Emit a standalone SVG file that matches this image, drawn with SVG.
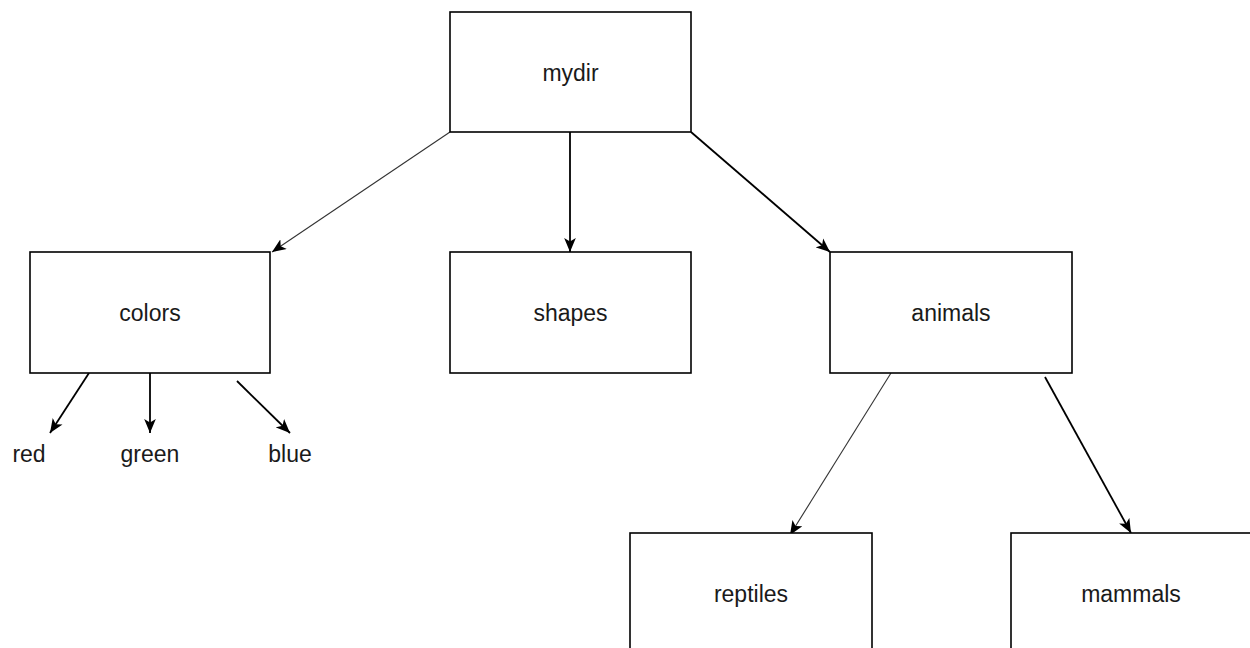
<svg xmlns="http://www.w3.org/2000/svg" width="1250" height="648" viewBox="0 0 1250 648">
<style>
.box{fill:#fff;stroke:#000;stroke-width:1.6}
.lbl{font-family:"Liberation Sans",Arial,sans-serif;font-size:23px;fill:#1a1a1a;text-anchor:middle}
.c{stroke:#000;stroke-width:1.8;fill:none}
.t{stroke:#333;stroke-width:1.1;fill:none}
</style>
<defs>
<marker id="ah" viewBox="0 0 12 10" refX="12" refY="5" markerWidth="14" markerHeight="12" markerUnits="userSpaceOnUse" orient="auto">
<path d="M0,0 L12,5 L0,10 L3,5 z" fill="#000"/>
</marker>
</defs>
<rect width="1250" height="648" fill="#fff"/>
<g id="connectors">
<line class="t" x1="450" y1="132" x2="272" y2="252" marker-end="url(#ah)"/>
<line class="c" x1="570" y1="132" x2="570" y2="252" marker-end="url(#ah)"/>
<line class="c" x1="691" y1="132" x2="830" y2="252" marker-end="url(#ah)"/>
<line class="c" x1="89" y1="373" x2="50" y2="433" marker-end="url(#ah)"/>
<line class="c" x1="150" y1="373" x2="150" y2="433" marker-end="url(#ah)"/>
<line class="c" x1="237" y1="381" x2="290" y2="433" marker-end="url(#ah)"/>
<line class="t" x1="891" y1="373" x2="790" y2="535" marker-end="url(#ah)"/>
<line class="c" x1="1045" y1="377" x2="1131" y2="533" marker-end="url(#ah)"/>
</g>
<g id="mydir"><rect class="box" x="450" y="12" width="241" height="120"/><text class="lbl" x="570.5" y="81">mydir</text></g>
<g id="colors"><rect class="box" x="30" y="252" width="240" height="121"/><text class="lbl" x="150" y="321">colors</text></g>
<g id="shapes"><rect class="box" x="450" y="252" width="241" height="121"/><text class="lbl" x="570.5" y="321">shapes</text></g>
<g id="animals"><rect class="box" x="830" y="252" width="242" height="121"/><text class="lbl" x="951" y="321">animals</text></g>
<g id="red"><text class="lbl" x="29" y="462">red</text></g>
<g id="green"><text class="lbl" x="150" y="462">green</text></g>
<g id="blue"><text class="lbl" x="290" y="462">blue</text></g>
<g id="reptiles"><rect class="box" x="630" y="533" width="242" height="130"/><text class="lbl" x="751" y="602">reptiles</text></g>
<g id="mammals"><rect class="box" x="1011" y="533" width="242" height="130"/><text class="lbl" x="1131" y="602">mammals</text></g>
</svg>
